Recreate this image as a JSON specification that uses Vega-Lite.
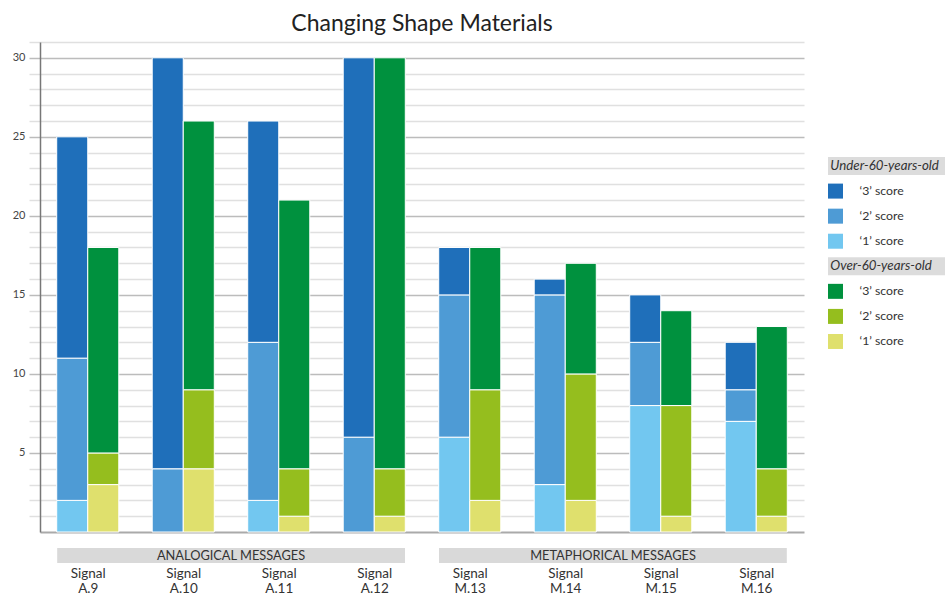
{
  "$schema": "https://vega.github.io/schema/vega-lite/v6.json",
  "background": "white",
  "padding": {"left": 12, "top": 13, "right": 0, "bottom": 0},
  "config": {"font": "Lato", "view": {"stroke": null}},
  "datasets": {
    "bars": [
      {"signal": "A.9", "age": "Under", "score": 1, "series": "U1", "value": 2},
      {"signal": "A.9", "age": "Under", "score": 2, "series": "U2", "value": 9},
      {"signal": "A.9", "age": "Under", "score": 3, "series": "U3", "value": 14},
      {"signal": "A.9", "age": "Over", "score": 1, "series": "O1", "value": 3},
      {"signal": "A.9", "age": "Over", "score": 2, "series": "O2", "value": 2},
      {"signal": "A.9", "age": "Over", "score": 3, "series": "O3", "value": 13},
      {"signal": "A.10", "age": "Under", "score": 2, "series": "U2", "value": 4},
      {"signal": "A.10", "age": "Under", "score": 3, "series": "U3", "value": 26},
      {"signal": "A.10", "age": "Over", "score": 1, "series": "O1", "value": 4},
      {"signal": "A.10", "age": "Over", "score": 2, "series": "O2", "value": 5},
      {"signal": "A.10", "age": "Over", "score": 3, "series": "O3", "value": 17},
      {"signal": "A.11", "age": "Under", "score": 1, "series": "U1", "value": 2},
      {"signal": "A.11", "age": "Under", "score": 2, "series": "U2", "value": 10},
      {"signal": "A.11", "age": "Under", "score": 3, "series": "U3", "value": 14},
      {"signal": "A.11", "age": "Over", "score": 1, "series": "O1", "value": 1},
      {"signal": "A.11", "age": "Over", "score": 2, "series": "O2", "value": 3},
      {"signal": "A.11", "age": "Over", "score": 3, "series": "O3", "value": 17},
      {"signal": "A.12", "age": "Under", "score": 2, "series": "U2", "value": 6},
      {"signal": "A.12", "age": "Under", "score": 3, "series": "U3", "value": 24},
      {"signal": "A.12", "age": "Over", "score": 1, "series": "O1", "value": 1},
      {"signal": "A.12", "age": "Over", "score": 2, "series": "O2", "value": 3},
      {"signal": "A.12", "age": "Over", "score": 3, "series": "O3", "value": 26},
      {"signal": "M.13", "age": "Under", "score": 1, "series": "U1", "value": 6},
      {"signal": "M.13", "age": "Under", "score": 2, "series": "U2", "value": 9},
      {"signal": "M.13", "age": "Under", "score": 3, "series": "U3", "value": 3},
      {"signal": "M.13", "age": "Over", "score": 1, "series": "O1", "value": 2},
      {"signal": "M.13", "age": "Over", "score": 2, "series": "O2", "value": 7},
      {"signal": "M.13", "age": "Over", "score": 3, "series": "O3", "value": 9},
      {"signal": "M.14", "age": "Under", "score": 1, "series": "U1", "value": 3},
      {"signal": "M.14", "age": "Under", "score": 2, "series": "U2", "value": 12},
      {"signal": "M.14", "age": "Under", "score": 3, "series": "U3", "value": 1},
      {"signal": "M.14", "age": "Over", "score": 1, "series": "O1", "value": 2},
      {"signal": "M.14", "age": "Over", "score": 2, "series": "O2", "value": 8},
      {"signal": "M.14", "age": "Over", "score": 3, "series": "O3", "value": 7},
      {"signal": "M.15", "age": "Under", "score": 1, "series": "U1", "value": 8},
      {"signal": "M.15", "age": "Under", "score": 2, "series": "U2", "value": 4},
      {"signal": "M.15", "age": "Under", "score": 3, "series": "U3", "value": 3},
      {"signal": "M.15", "age": "Over", "score": 1, "series": "O1", "value": 1},
      {"signal": "M.15", "age": "Over", "score": 2, "series": "O2", "value": 7},
      {"signal": "M.15", "age": "Over", "score": 3, "series": "O3", "value": 6},
      {"signal": "M.16", "age": "Under", "score": 1, "series": "U1", "value": 7},
      {"signal": "M.16", "age": "Under", "score": 2, "series": "U2", "value": 2},
      {"signal": "M.16", "age": "Under", "score": 3, "series": "U3", "value": 3},
      {"signal": "M.16", "age": "Over", "score": 1, "series": "O1", "value": 1},
      {"signal": "M.16", "age": "Over", "score": 2, "series": "O2", "value": 3},
      {"signal": "M.16", "age": "Over", "score": 3, "series": "O3", "value": 9}
    ],
    "groups": [
      {"group": "ANALOGICAL MESSAGES"},
      {"group": "METAPHORICAL MESSAGES"}
    ],
    "legend": [
      {"item": "T1", "kind": "title", "label": "Under-60-years-old"},
      {"item": "U3", "kind": "item", "label": "‘3’ score", "series": "U3"},
      {"item": "U2", "kind": "item", "label": "‘2’ score", "series": "U2"},
      {"item": "U1", "kind": "item", "label": "‘1’ score", "series": "U1"},
      {"item": "T2", "kind": "title", "label": "Over-60-years-old"},
      {"item": "O3", "kind": "item", "label": "‘3’ score", "series": "O3"},
      {"item": "O2", "kind": "item", "label": "‘2’ score", "series": "O2"},
      {"item": "O1", "kind": "item", "label": "‘1’ score", "series": "O1"}
    ]
  },
  "spacing": 23,
  "hconcat": [
    {
      "spacing": 15,
      "resolve": {"scale": {"x": "independent"}},
      "vconcat": [
        {
          "title": {"text": "Changing Shape Materials", "fontSize": 23, "fontWeight": "normal", "color": "#222", "anchor": "middle", "offset": 0},
          "width": 764,
          "height": 490,
          "data": {"name": "bars"},
          "mark": {"type": "bar", "stroke": "white", "strokeWidth": 1},
          "encoding": {
            "x": {"field": "signal", "type": "nominal", "sort": ["A.9", "A.10", "A.11", "A.12", "M.13", "M.14", "M.15", "M.16"], "scale": {"paddingInner": 0.35, "paddingOuter": 0.175}, "axis": {"title": null, "labels": false, "ticks": false, "domainColor": "#aaaaaa", "domainWidth": 2}},
            "xOffset": {"field": "age", "type": "nominal", "sort": ["Under", "Over"], "scale": {"paddingInner": 0, "paddingOuter": 0}},
            "y": {"field": "value", "type": "quantitative", "stack": "zero", "scale": {"domain": [0, 31], "nice": false},
              "axis": {"title": null, "values": [1,2,3,4,5,6,7,8,9,10,11,12,13,14,15,16,17,18,19,20,21,22,23,24,25,26,27,28,29,30,31],
                "labelExpr": "datum.value % 5 === 0 && datum.value <= 30 ? datum.label : ''", "labelOverlap": false,
                "grid": true, "gridColor": {"condition": {"test": "datum.value % 5 === 0", "value": "#bcbcbc"}, "value": "#e0e0e0"}, "gridWidth": 1.5,
                "tickSize": 11, "tickColor": {"condition": {"test": "datum.value % 5 === 0", "value": "#bcbcbc"}, "value": "#e0e0e0"}, "tickWidth": 1.5,
                "domainColor": "#777777", "domainWidth": 1.5, "labelFontSize": 11, "labelColor": "#444", "labelPadding": 4}},
            "color": {"field": "series", "type": "nominal", "scale": {"domain": ["U3", "U2", "U1", "O3", "O2", "O1"], "range": ["#1f6fba", "#4e9bd5", "#72c7f0", "#00913e", "#95be1e", "#dfe06d"]}, "legend": null},
            "order": {"field": "score", "type": "quantitative", "sort": "ascending"}
          }
        },
        {
          "width": 764,
          "height": 15,
          "resolve": {"scale": {"x": "independent"}},
          "layer": [
            {
              "data": {"name": "groups"},
              "mark": {"type": "rect", "color": "#d9d9d9"},
              "encoding": {"x": {"field": "group", "type": "nominal", "sort": ["ANALOGICAL MESSAGES", "METAPHORICAL MESSAGES"], "scale": {"paddingInner": 0.089, "paddingOuter": 0.045}, "axis": null}}
            },
            {
              "data": {"name": "groups"},
              "mark": {"type": "text", "fontSize": 12.8, "color": "#333"},
              "encoding": {"x": {"field": "group", "type": "nominal", "sort": ["ANALOGICAL MESSAGES", "METAPHORICAL MESSAGES"], "scale": {"paddingInner": 0.089, "paddingOuter": 0.045}, "axis": null}, "text": {"field": "group"}}
            },
            {
              "data": {"name": "bars"},
              "mark": {"type": "point", "opacity": 0},
              "encoding": {"x": {"field": "signal", "type": "nominal", "sort": ["A.9", "A.10", "A.11", "A.12", "M.13", "M.14", "M.15", "M.16"], "scale": {"paddingInner": 0.35, "paddingOuter": 0.175},
                "axis": {"orient": "bottom", "title": null, "domain": false, "ticks": false, "labelAngle": 0, "labelExpr": "['Signal', datum.label]", "labelFontSize": 13.5, "labelColor": "#333", "labelPadding": 3, "labelLineHeight": 15}}}
            }
          ]
        }
      ]
    },
    {
      "width": 117,
      "height": 490,
      "data": {"name": "legend"},
      "encoding": {"y": {"field": "item", "type": "nominal", "sort": ["T1", "U3", "U2", "U1", "T2", "O3", "O2", "O1"], "scale": {"type": "band", "range": [111.5, 312], "paddingInner": 0, "paddingOuter": 0}, "axis": null}},
      "layer": [
        {
          "transform": [{"filter": "datum.kind === 'title'"}],
          "mark": {"type": "bar", "color": "#dcdcdc", "height": {"band": 0.72}},
          "encoding": {"x": {"datum": 0, "type": "quantitative", "scale": {"domain": [0, 1], "nice": false, "zero": false}, "axis": null}, "x2": {"datum": 1}}
        },
        {
          "transform": [{"filter": "datum.kind === 'title'"}],
          "mark": {"type": "text", "align": "left", "fontStyle": "italic", "fontWeight": "normal", "fontSize": 13.3, "color": "#333"},
          "encoding": {"x": {"datum": 0.02, "type": "quantitative"}, "text": {"field": "label"}}
        },
        {
          "transform": [{"filter": "datum.kind === 'item'"}],
          "mark": {"type": "square", "size": 225, "filled": true, "opacity": 1},
          "encoding": {"x": {"datum": 0.064, "type": "quantitative"}, "color": {"field": "series", "type": "nominal", "scale": {"domain": ["U3", "U2", "U1", "O3", "O2", "O1"], "range": ["#1f6fba", "#4e9bd5", "#72c7f0", "#00913e", "#95be1e", "#dfe06d"]}, "legend": null}}
        },
        {
          "transform": [{"filter": "datum.kind === 'item'"}],
          "mark": {"type": "text", "align": "left", "fontSize": 12.3, "color": "#333"},
          "encoding": {"x": {"datum": 0.27, "type": "quantitative"}, "text": {"field": "label"}}
        }
      ]
    }
  ]
}
